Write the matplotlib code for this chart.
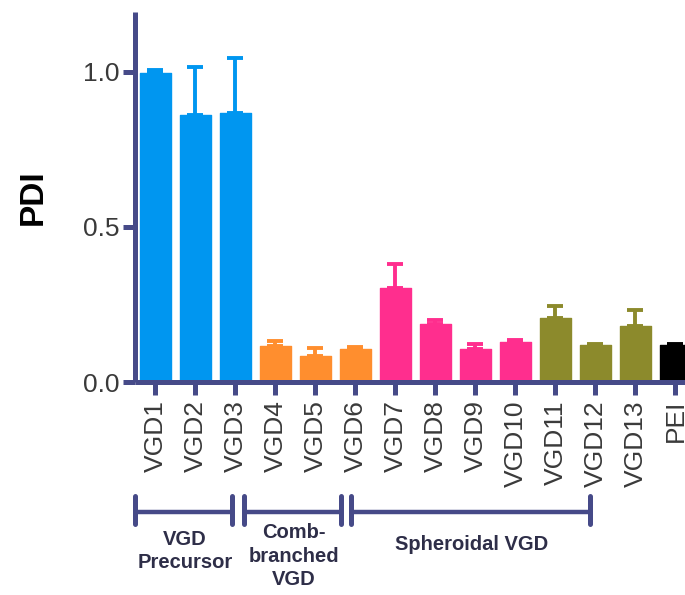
import matplotlib
matplotlib.use("Agg")
import matplotlib.pyplot as plt
import numpy as np
from matplotlib.transforms import blended_transform_factory

categories = ["VGD1", "VGD2", "VGD3", "VGD4", "VGD5", "VGD6", "VGD7",
              "VGD8", "VGD9", "VGD10", "VGD11", "VGD12", "VGD13", "PEI"]
pdi = [0.995, 0.86, 0.867, 0.117, 0.084, 0.106, 0.302,
       0.188, 0.108, 0.130, 0.206, 0.119, 0.180, 0.119]
err = [0.010, 0.156, 0.177, 0.015, 0.025, 0.008, 0.079,
       0.011, 0.016, 0.006, 0.040, 0.002, 0.053, 0.004]
colors = ["#0096F0"] * 3 + ["#FF8E2E"] * 3 + ["#FF2E8E"] * 4 + ["#8C8A2C"] * 3 + ["#000000"]
yticks = [0.0, 0.5, 1.0]
ytick_labels = ["0.0", "0.5", "1.0"]
groups = ["VGD\nPrecursor", "Comb-\nbranched\nVGD", "Spheroidal VGD"]
group_spans = [(-0.51, 1.91), (2.21, 4.64), (4.89, 10.86)]

plt.rcParams['font.family'] = ['Liberation Sans', 'DejaVu Sans']
axis_color = "#464A88"
text_color = "#3A3A3A"

fig = plt.figure(figsize=(6.85, 5.95), dpi=100)
W, H = 685, 595
ax = fig.add_axes([135 / W, (H - 382) / H, 1 - 135 / W, (382 - 12) / H])

x = np.arange(len(categories))
ax.bar(x, pdi, width=0.78, color=colors, edgecolor=colors, linewidth=1.0,
       joinstyle='round', zorder=2)
for xi, v, e, c in zip(x, pdi, err, colors):
    ax.errorbar(xi, v, yerr=[[0], [e]], fmt='none', ecolor=c, elinewidth=2.8,
                capsize=6, capthick=2.8, zorder=1)

ax.set_xlim(-0.51, 13.24)
ax.set_ylim(0, 1.193)
ax.set_yticks(yticks)
ax.set_yticklabels(ytick_labels)
ax.set_xticks(x)
ax.set_xticklabels(categories, rotation=90)

for s in ["top", "right"]:
    ax.spines[s].set_visible(False)
for s in ["left", "bottom"]:
    ax.spines[s].set_color(axis_color)
    ax.spines[s].set_linewidth(3.6)
    ax.spines[s].set_capstyle('butt')

ax.tick_params(axis='both', colors=axis_color, width=3.6, length=9,
               labelcolor=text_color, labelsize=19)
ax.tick_params(axis='y', pad=2)
ax.tick_params(axis='x', pad=4)

ax.set_ylabel("PDI", fontsize=24, fontweight='bold', color='black', labelpad=25)

trans = blended_transform_factory(ax.transData, fig.transFigure)
yb = (H - 512) / H
yt = (H - 496) / H
ybot = (H - 524) / H
for (a, b) in group_spans:
    ax.plot([a, b], [yb, yb], transform=trans, color=axis_color, lw=3.2,
            clip_on=False, solid_capstyle='butt')
    for xx in (a, b):
        ax.plot([xx, xx], [yt, ybot], transform=trans, color=axis_color, lw=3.6,
                clip_on=False, solid_capstyle='round')

label_color = "#2E2E48"
ax.text(0.74, (H - 551) / H, groups[0], transform=trans, ha='center', va='center',
        fontsize=14.5, fontweight='bold', color=label_color, linespacing=1.3)
ax.text(3.46, (H - 556) / H, groups[1], transform=trans, ha='center', va='center',
        fontsize=14.5, fontweight='bold', color=label_color, linespacing=1.3)
ax.text(7.91, (H - 545) / H, groups[2], transform=trans, ha='center', va='center',
        fontsize=14.5, fontweight='bold', color=label_color)

fig.savefig("out.png", dpi=100)
